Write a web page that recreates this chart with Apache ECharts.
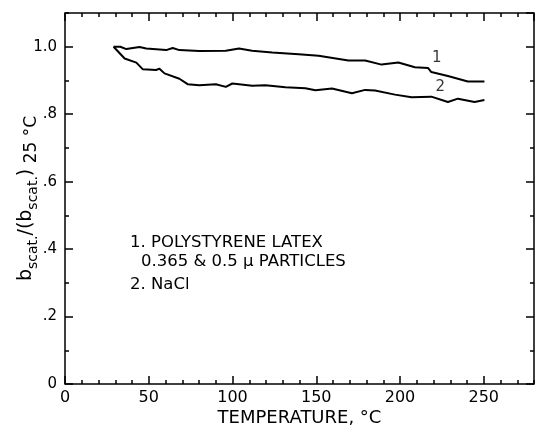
<!DOCTYPE html>
<html>
<head>
<meta charset="utf-8">
<script src="https://cdn.jsdelivr.net/npm/echarts@6/dist/echarts.min.js"></script>
<style>html,body{margin:0;padding:0;background:#fff}#c{width:536px;height:428px}</style>
</head>
<body>
<div id="c"></div>
<script>
// Curve 1: polystyrene latex
const temp1 = [29, 33, 36.6, 44.5, 48.5, 60.4, 64.3, 68.3, 80.2, 96, 103.9, 111.7, 123.7, 139.5, 151.4, 169.2, 179.2, 189, 199, 208.9, 216.7, 218.7, 228.6, 240.5, 250.4];
const ratio1 = [1.0, 1.0, 0.993, 0.999, 0.995, 0.99, 0.996, 0.99, 0.987, 0.988, 0.995, 0.988, 0.983, 0.978, 0.973, 0.959, 0.959, 0.947, 0.953, 0.939, 0.937, 0.925, 0.913, 0.897, 0.897];
// Curve 2: NaCl
const temp2 = [29, 35.6, 42.6, 46.5, 54.4, 56.4, 59.4, 68.3, 73.2, 80.2, 90.1, 96, 99.9, 111.8, 119.7, 131.6, 143.5, 149.5, 159.4, 171.3, 179.2, 185.1, 197, 206.9, 218.7, 228.6, 234.6, 244.5, 250.4];
const ratio2 = [1.0, 0.965, 0.953, 0.933, 0.931, 0.935, 0.921, 0.905, 0.889, 0.886, 0.889, 0.881, 0.891, 0.884, 0.886, 0.880, 0.877, 0.871, 0.876, 0.862, 0.872, 0.870, 0.858, 0.850, 0.852, 0.836, 0.846, 0.836, 0.842];
// Curve labels
const curveLabels = ['1', '2'];
const labelT = [222, 224];
const labelV = [0.965, 0.88];
// Key text
const keyLines = ['1. POLYSTYRENE LATEX', '0.365 & 0.5 \u03bc PARTICLES', '2. NaCl'];

const F = 'DejaVu Sans';
const chart = echarts.init(document.getElementById('c'));
const xBase = {type: 'value', min: 0, max: 280, axisLine: {show: false, onZero: false}, splitLine: {show: false}, axisLabel: {show: false}};
const yBase = {type: 'value', min: 0, max: 1.1, axisLine: {show: false, onZero: false}, splitLine: {show: false}, axisLabel: {show: false}};
const tk = (len) => ({show: true, inside: true, length: len, lineStyle: {color: '#000', width: 1.5}});
chart.setOption({
  animation: false,
  backgroundColor: '#fff',
  grid: {left: 65, right: 2, top: 13, bottom: 44, outerBoundsMode: 'none', containLabel: false, show: true, borderColor: '#000', borderWidth: 1.5},
  xAxis: [
    Object.assign({}, xBase, {position: 'bottom', interval: 50, axisTick: tk(8),
      axisLabel: {show: true, margin: 6, fontFamily: F, fontSize: 16, color: '#000', showMaxLabel: false,
        formatter: v => (v % 50 === 0 && v <= 250) ? String(v) : ''},
      name: 'TEMPERATURE, \u00b0C', nameLocation: 'middle', nameGap: 25, nameMoveOverlap: false,
      nameTextStyle: {fontFamily: F, fontSize: 18, color: '#000'}}),
    Object.assign({}, xBase, {position: 'bottom', interval: 10, axisTick: tk(4)}),
    Object.assign({}, xBase, {position: 'top', interval: 50, axisTick: tk(8)}),
    Object.assign({}, xBase, {position: 'top', interval: 10, axisTick: tk(4)})
  ],
  yAxis: [
    Object.assign({}, yBase, {position: 'left', interval: 0.2, axisTick: tk(8),
      axisLabel: {show: true, margin: 8, fontFamily: F, fontSize: 15, color: '#000', showMaxLabel: false,
        formatter: v => { if (v > 1.05) return ''; if (v === 0) return '0'; if (Math.abs(v - 1) < 1e-6) return '1.0'; return v.toFixed(1).replace(/^0/, ''); }},
      name: '{b|b}{s|scat.}{b|/(b}{s|scat.}{b|)}{t| 25 \u00b0C}', nameLocation: 'middle', nameGap: 25, nameRotate: 90, nameMoveOverlap: false,
      nameTextStyle: {rich: {
        b: {fontFamily: F, fontSize: 19, color: '#000', lineHeight: 27, verticalAlign: 'middle'},
        s: {fontFamily: F, fontSize: 14, color: '#000', lineHeight: 14, verticalAlign: 'bottom'},
        t: {fontFamily: F, fontSize: 17, color: '#000', lineHeight: 17, verticalAlign: 'bottom'}
      }}}),
    Object.assign({}, yBase, {position: 'left', interval: 0.1, axisTick: tk(4)}),
    Object.assign({}, yBase, {position: 'right', interval: 0.2, axisTick: tk(8)}),
    Object.assign({}, yBase, {position: 'right', interval: 0.1, axisTick: tk(4)})
  ],
  series: [
    {type: 'line', xAxisIndex: 0, yAxisIndex: 0, showSymbol: false, lineStyle: {color: '#000', width: 2},
      data: temp1.map((t, i) => [t, ratio1[i]])},
    {type: 'line', xAxisIndex: 0, yAxisIndex: 0, showSymbol: false, lineStyle: {color: '#000', width: 2},
      data: temp2.map((t, i) => [t, ratio2[i]])},
    {type: 'scatter', xAxisIndex: 0, yAxisIndex: 0, symbolSize: 0,
      label: {show: true, position: 'inside', fontFamily: F, fontSize: 15, color: '#000', formatter: p => curveLabels[p.dataIndex]},
      data: labelT.map((t, i) => [t, labelV[i]])}
  ],
  graphic: [
    {type: 'text', left: 130, top: 234, style: {text: keyLines[0], font: '16.5px "DejaVu Sans"', fill: '#000'}},
    {type: 'text', left: 141, top: 253, style: {text: keyLines[1], font: '16.5px "DejaVu Sans"', fill: '#000'}},
    {type: 'text', left: 130, top: 276, style: {text: keyLines[2], font: '16.5px "DejaVu Sans"', fill: '#000'}}
  ]
});
</script>
</body>
</html>
